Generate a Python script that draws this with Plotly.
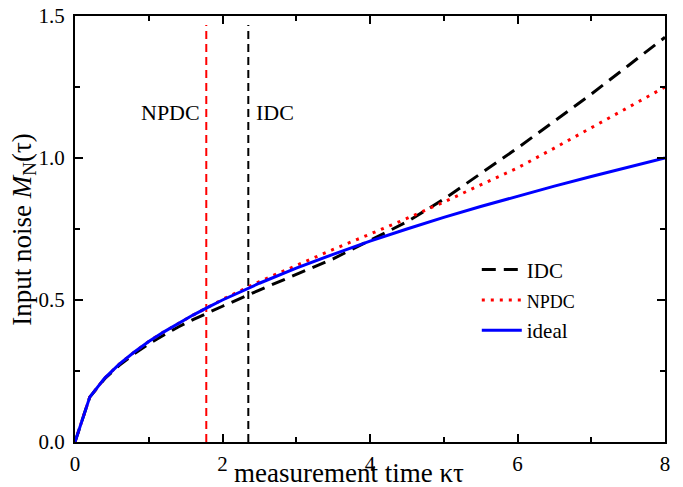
import plotly.graph_objects as go

# measurement time kappa*tau
t = [0, 0.2, 0.4, 0.6, 0.8, 1.0, 1.2, 1.4, 1.6, 1.8, 2.0, 2.5, 3.0, 3.5,
     4.0, 4.5, 5.0, 5.5, 6.0, 6.5, 7.0, 7.5, 8.0]
ideal = [0, 0.158, 0.224, 0.274, 0.316, 0.354, 0.387, 0.418, 0.447, 0.474,
         0.500, 0.559, 0.612, 0.661, 0.707, 0.750, 0.791, 0.829, 0.866,
         0.901, 0.935, 0.968, 1.000]
npdc = [0, 0.158, 0.224, 0.274, 0.316, 0.354, 0.387, 0.418, 0.447, 0.474,
        0.502, 0.565, 0.622, 0.678, 0.732, 0.787, 0.845, 0.905, 0.965,
        1.035, 1.105, 1.178, 1.250]
idc = [0, 0.158, 0.222, 0.270, 0.310, 0.345, 0.376, 0.405, 0.431, 0.455,
       0.478, 0.535, 0.590, 0.645, 0.710, 0.775, 0.855, 0.945, 1.035,
       1.130, 1.225, 1.325, 1.425]

npdc_cut = 1.78
idc_cut = 2.35
cut_y = [0, 1.468]

x_ticks = [0, 2, 4, 6, 8]
y_ticks = [0.0, 0.5, 1.0, 1.5]
y_tick_labels = ["0.0", "0.5", "1.0", "1.5"]

FONT = "Liberation Serif, Times New Roman, serif"

fig = go.Figure()
fig.add_trace(go.Scatter(x=[npdc_cut, npdc_cut], y=cut_y, mode="lines",
                         line=dict(color="#ff0000", width=2, dash="8px,5px"),
                         showlegend=False, hoverinfo="skip"))
fig.add_trace(go.Scatter(x=[idc_cut, idc_cut], y=cut_y, mode="lines",
                         line=dict(color="black", width=2, dash="8px,5px"),
                         showlegend=False, hoverinfo="skip"))
fig.add_trace(go.Scatter(x=t, y=idc, mode="lines", name="IDC",
                         line=dict(color="black", width=3, dash="14px,8px")))
fig.add_trace(go.Scatter(x=t, y=npdc, mode="lines",
                         name="<span style='font-size:18px'>NPDC</span>",
                         line=dict(color="#ff0000", width=3, dash="3px,6px")))
fig.add_trace(go.Scatter(x=t, y=ideal, mode="lines", name="ideal",
                         line=dict(color="#0000ff", width=3)))

axis_common = dict(showline=True, linecolor="black", linewidth=2, mirror="allticks",
                   ticks="inside", ticklen=8, tickwidth=1.5, tickcolor="black",
                   showgrid=False, zeroline=False, automargin=False,
                   tickfont=dict(family=FONT, size=21, color="black"))

fig.update_xaxes(range=[0, 8], tickvals=x_ticks,
                 minor=dict(dtick=1, ticks="inside", ticklen=5, tickwidth=1.5, tickcolor="black"),
                 ticklabelstandoff=2, **axis_common)
fig.update_yaxes(range=[0, 1.5], tickvals=y_ticks, ticktext=y_tick_labels,
                 minor=dict(dtick=0.25, ticks="inside", ticklen=5, tickwidth=1.5, tickcolor="black"),
                 ticklabelstandoff=4, **axis_common)

fig.update_layout(
    width=683, height=487,
    margin=dict(l=75, r=18, t=16, b=45),
    paper_bgcolor="white", plot_bgcolor="white",
    font=dict(family=FONT, color="black"),
    legend=dict(x=0.681, y=0.452, xanchor="left", yanchor="top",
                bgcolor="rgba(0,0,0,0)", font=dict(family=FONT, size=21),
                tracegroupgap=0, itemwidth=40),
    showlegend=True,
    annotations=[
        dict(text="measurement time κτ", xref="paper", yref="paper",
             x=0.464, y=-0.033, xanchor="center", yanchor="top",
             showarrow=False, font=dict(family=FONT, size=27)),
        dict(text="Input noise <i>M</i><sub>N</sub>(τ)", xref="paper", yref="paper",
             x=-0.087, y=0.5, xanchor="center", yanchor="middle", textangle=-90,
             showarrow=False, font=dict(family=FONT, size=27)),
        dict(text="NPDC", x=npdc_cut, y=1.16, xref="x", yref="y",
             xanchor="right", yanchor="middle", xshift=-4, showarrow=False,
             font=dict(family=FONT, size=22)),
        dict(text="IDC", x=idc_cut, y=1.16, xref="x", yref="y",
             xanchor="left", yanchor="middle", xshift=6, showarrow=False,
             font=dict(family=FONT, size=22)),
    ],
)

fig.write_html("out.html", config={"displayModeBar": False},
               post_script="document.body.style.margin='0';document.body.style.overflow='hidden';")
